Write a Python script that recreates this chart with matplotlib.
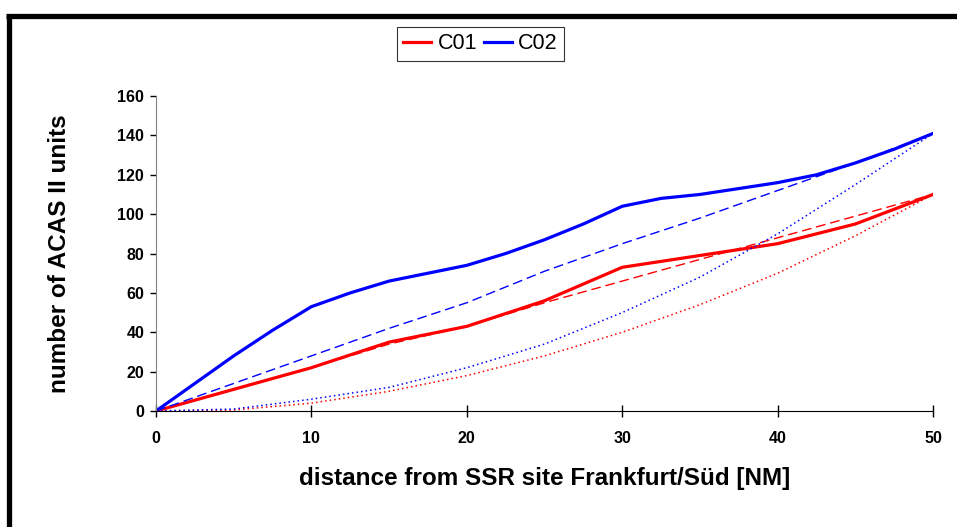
import matplotlib.pyplot as plt
from matplotlib.lines import Line2D

# distances [NM]
dist_solid_c01 = [0, 10, 15, 20, 25, 30, 35, 40, 45, 50]
c01_solid = [0, 22, 35, 43, 56, 73, 79, 85, 95, 110]

dist_fine = [0, 2.5, 5, 7.5, 10, 12.5, 15, 17.5, 20, 22.5, 25, 27.5, 30,
             32.5, 35, 37.5, 40, 42.5, 45, 47.5, 50]
c02_solid = [0, 14, 28, 41, 53, 60, 66, 70, 74, 80, 87, 95, 104,
             108, 110, 113, 116, 120, 126, 133, 141]

dist_trend = [0, 5, 10, 15, 20, 25, 30, 35, 40, 45, 50]
c01_dashed = [0, 11, 22, 34, 43, 55, 66, 77, 88, 99, 110]
c02_dashed = [0, 14, 28, 42, 55, 71, 85, 98, 112, 126, 141]
c01_dotted = [0, 0.5, 4, 10, 18, 28, 40, 54, 70, 89, 110]
c02_dotted = [0, 1, 6, 12, 22, 34, 50, 68, 90, 115, 141]

red = '#ff0000'
blue = '#0000ff'

plt.rcParams['font.family'] = ['Liberation Sans', 'DejaVu Sans']

fig = plt.figure(figsize=(9.57, 5.27), dpi=100)
ax = fig.add_axes([0.163, 0.2201, 0.812, 0.5977])

l1, = ax.plot(dist_solid_c01, c01_solid, color=red, lw=2.3, label='C01')
l2, = ax.plot(dist_fine, c02_solid, color=blue, lw=2.3, label='C02')
ax.plot(dist_trend, c01_dashed, color=red, lw=1.0, ls=(0, (7, 3.5)))
ax.plot(dist_trend, c02_dashed, color=blue, lw=1.0, ls=(0, (7, 3.5)))
ax.plot(dist_trend, c01_dotted, color=red, lw=1.1, ls=(0, (1, 2)))
ax.plot(dist_trend, c02_dotted, color=blue, lw=1.1, ls=(0, (1, 2)))

ax.set_xlim(0, 50)
ax.set_ylim(0, 160)
ax.set_xticks(range(0, 51, 10))
ax.set_yticks(range(0, 161, 20))
for s in ['top', 'right']:
    ax.spines[s].set_visible(False)
ax.spines['left'].set_color('#808080')
ax.spines['bottom'].set_color('black')
ax.tick_params(axis='x', direction='inout', length=8.6, width=1, pad=10,
               labelsize=11.5)
ax.tick_params(axis='y', direction='out', length=4.5, width=1, pad=4,
               labelsize=11.5)
for t in ax.get_xticklabels() + ax.get_yticklabels():
    t.set_fontweight('bold')

ax.set_xlabel('distance from SSR site Frankfurt/Süd [NM]', fontsize=17.5,
              fontweight='bold', labelpad=15)
ax.set_ylabel('number of ACAS II units', fontsize=17.5, fontweight='bold',
              labelpad=33)

leg = fig.legend(handles=[l1, l2], loc='center', bbox_to_anchor=(0.502, 0.917),
                 ncol=2, frameon=True, fancybox=False, handlelength=1.3,
                 handletextpad=0.3, columnspacing=0.3, borderpad=0.3,
                 prop={'size': 15.5})
leg.get_frame().set_edgecolor('black')
leg.get_frame().set_linewidth(0.8)

# outer frame
fig.add_artist(Line2D([0.0063, 1.0], [0.9705, 0.9705], color='black', lw=3.8,
                      transform=fig.transFigure, solid_capstyle='butt'))
fig.add_artist(Line2D([0.0089, 0.0089], [0.0, 0.9705], color='black', lw=3.8,
                      transform=fig.transFigure, solid_capstyle='butt'))

fig.savefig('out.png', dpi=100)
